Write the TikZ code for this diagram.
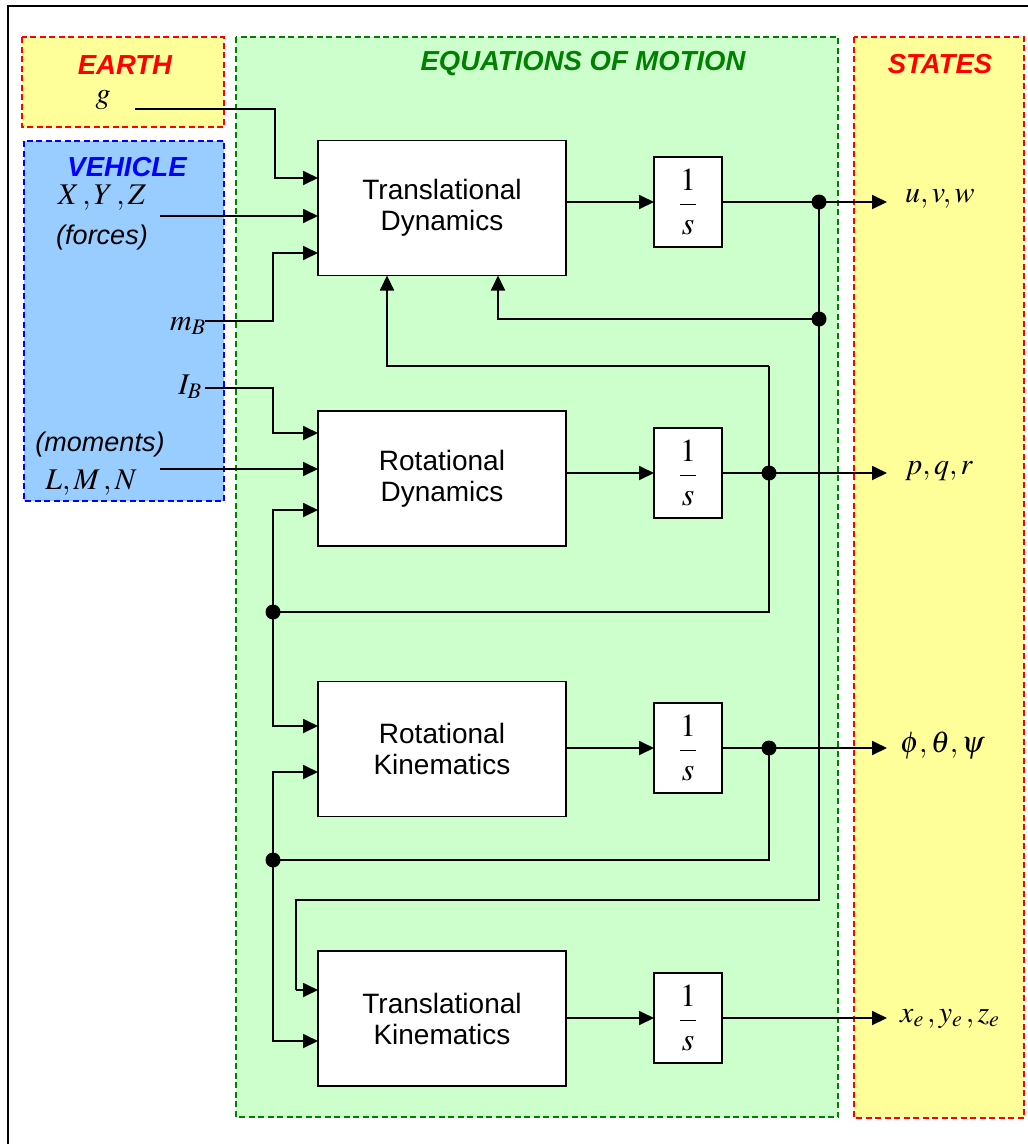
\documentclass[tikz,border=0pt]{standalone}
\usepackage{mathptmx}
\usepackage[no-math]{fontspec}
\setmainfont{Liberation Sans}
\usetikzlibrary{arrows.meta,calc}
\definecolor{zoneyellow}{HTML}{FFFF99}
\definecolor{zoneblue}{HTML}{99CCFF}
\definecolor{zonegreen}{HTML}{CCFFCC}
\definecolor{eomgreen}{HTML}{008000}
\tikzset{
  zone/.style={line width=1.3pt, dash pattern=on 6pt off 3.5pt},
  ttl/.style={font=\fontsize{27.5}{31}\selectfont\bfseries\itshape, inner sep=0pt},
  mlab/.style={font=\fontsize{30}{34}\selectfont, inner sep=0pt},
  slab/.style={font=\fontsize{27}{31}\selectfont\itshape, inner sep=0pt},
  blk/.style={draw, line width=1.8pt, fill=white, minimum width=248pt, minimum height=135pt,
              align=center, outer sep=0pt, font=\fontsize{28}{31}\selectfont},
  integ/.style={draw, line width=1.8pt, fill=white, minimum width=68pt, minimum height=90pt,
                outer sep=0pt, inner sep=0pt, font=\fontsize{32}{36}\selectfont},
  wire/.style={line width=1.8pt},
  arr/.style={line width=1.8pt, -{Triangle[length=15pt,width=14pt]}},
  jdot/.style={circle, fill=black, inner sep=0pt, minimum size=15pt}
}
\begin{document}
\begin{tikzpicture}[x=1pt,y=-1pt]
\useasboundingbox (0,0) rectangle (1028,1144);
\fill[white] (0,0) rectangle (1028,1144);
% outer frame
\draw[line width=1.8pt] (1028,6) -- (8,6) -- (8,1144);

% coloured regions
\draw[zone, fill=zoneyellow, draw=red] (22,37) rectangle (224,127);
\draw[zone, fill=zoneblue, draw=blue] (24,141) rectangle (224,501);
\draw[zone, fill=zonegreen, draw=eomgreen] (236,37) rectangle (838,1117);
\draw[zone, fill=zoneyellow, draw=red] (854,37) rectangle (1024,1118);

% region titles
\node[ttl, text=red] (tEarth) at (125,65) {EARTH};
\node[ttl, text=blue] (tVeh) at (127,167) {VEHICLE};
\node[ttl, text=eomgreen] (tEom) at (583,64) {EQUATIONS OF MOTION};
\node[ttl, text=red] (tStates) at (940,64) {STATES};

% input labels
\node[mlab] (lg) at (103,100) {$g$};
\node[mlab] (lxyz) at (102,198) {$X\,,Y\,,Z$};
\node[slab] (lforces) at (102,238) {(forces)};
\node[mlab, anchor=east] (lm) at (206,326) {$m_B$};
\node[mlab, anchor=east] (lI) at (202,387) {$I_B$};
\node[slab] (lmom) at (100,445) {(moments)};
\node[mlab] (llmn) at (91,483) {$L,M\,,N$};

% blocks
\node[blk] (TD) at (442,208) {Translational\\Dynamics};
\node[blk] (RD) at (442,478.5) {Rotational\\Dynamics};
\node[blk] (RK) at (442,749) {Rotational\\Kinematics};
\node[blk] (TK) at (442,1018.5) {Translational\\Kinematics};

% integrators
\node[integ] (I1) at (688,202) {$\displaystyle\frac{1}{s}$};
\node[integ] (I2) at (688,473) {$\displaystyle\frac{1}{s}$};
\node[integ] (I3) at (688,748) {$\displaystyle\frac{1}{s}$};
\node[integ] (I4) at (688,1018) {$\displaystyle\frac{1}{s}$};

% output labels
\node[mlab, anchor=west] (luvw) at (905,199) {$u,v,w$};
\node[mlab, anchor=west] (lpqr) at (905,471) {$p,q,r$};
\node[mlab, anchor=west] (leul) at (900,746) {$\phi,\theta,\psi$};
\node[mlab, anchor=west] (lpos) at (900,1019) {$x_e\,,y_e\,,z_e$};

% junction points
\node[jdot] (D1) at (819,202) {};
\node[jdot] (D2) at (819,319) {};
\node[jdot] (D3) at (769,473) {};
\node[jdot] (D4) at (273,612) {};
\node[jdot] (D5) at (769,748) {};
\node[jdot] (D6) at (273,860) {};

% wire ends and bends
\coordinate (gs) at (135,109);
\coordinate (gb) at (275,178);
\coordinate (fs) at (160,216);
\coordinate (ms) at (205,321);
\coordinate (mb) at (273,253);
\coordinate (is) at (205,388);
\coordinate (ib) at (273,433);
\coordinate (ns) at (160,469);
\coordinate (O1) at (887,202);
\coordinate (O2) at (887,473);
\coordinate (O3) at (887,748);
\coordinate (O4) at (887,1018);
\coordinate (k1) at (769,366);
\coordinate (k2) at (819,900);
\coordinate (k3) at (296,990);

% inputs
\draw[arr] (gs) -| (gb) -- ([yshift=30pt]TD.west);
\draw[arr] (fs) -- ([yshift=-8pt]TD.west);
\draw[arr] (ms) -| (mb) -- ([yshift=-45pt]TD.west);
\draw[arr] (is) -| (ib) -- ([yshift=45.5pt]RD.west);
\draw[arr] (ns) -- ([yshift=9.5pt]RD.west);

% forward paths
\draw[arr] (TD.east |- I1.west) -- (I1.west);
\draw[arr] (RD.east |- I2.west) -- (I2.west);
\draw[arr] (RK.east |- I3.west) -- (I3.west);
\draw[arr] (TK.east |- I4.west) -- (I4.west);
\draw[arr] (I1.east) -- (O1);
\draw[arr] (I2.east) -- (O2);
\draw[arr] (I3.east) -- (O3);
\draw[arr] (I4.east) -- (O4);

% feedback of u,v,w
\draw[wire] (D1.center) -- (D2.center);
\draw[arr] (D2.center) -| ([xshift=56pt]TD.south);
\draw[wire] (D2.center) -- (k2) -| (k3);
\draw[arr] (k3) -- ([yshift=28.5pt]TK.west);

% feedback of p,q,r
\draw[wire] (D3.center) -- (k1);
\draw[arr] (k1) -| ([xshift=-55pt]TD.south);
\draw[wire] (D3.center) |- (D4.center);
\draw[arr] (D4.center) |- ([yshift=-31.5pt]RD.west);
\draw[arr] (D4.center) |- ([yshift=23pt]RK.west);

% feedback of attitude
\draw[wire] (D5.center) |- (D6.center);
\draw[arr] (D6.center) |- ([yshift=-23pt]RK.west);
\draw[arr] (D6.center) |- ([yshift=-22.5pt]TK.west);
\end{tikzpicture}
\end{document}
